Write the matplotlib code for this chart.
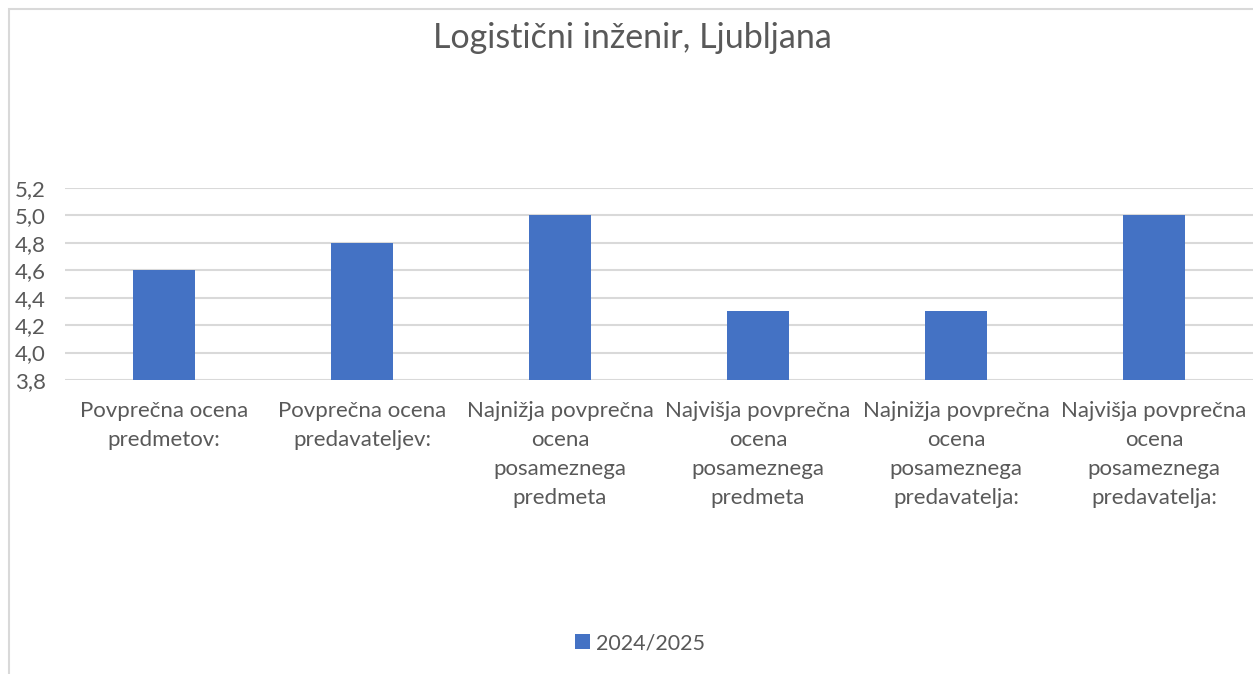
import matplotlib.pyplot as plt
from matplotlib.patches import Rectangle
from matplotlib.ticker import FuncFormatter

plt.rcParams['font.family'] = ['Lato', 'DejaVu Sans']

categories = ['Povprečna ocena\npredmetov:',
              'Povprečna ocena\npredavateljev:',
              'Najnižja povprečna\nocena\nposameznega\npredmeta',
              'Najvišja povprečna\nocena\nposameznega\npredmeta',
              'Najnižja povprečna\nocena\nposameznega\npredavatelja:',
              'Najvišja povprečna\nocena\nposameznega\npredavatelja:']
values = [4.6, 4.8, 5.0, 4.3, 4.3, 5.0]
series_name = '2024/2025'
yticks = [3.8, 4.0, 4.2, 4.4, 4.6, 4.8, 5.0, 5.2]

txt = '#595959'
fig = plt.figure(figsize=(12.53, 6.74), dpi=100)
ax = fig.add_axes([65/1253, 1-380/674, 1-65/1253, (380-188)/674])

x = range(len(categories))
ax.bar(x, values, width=0.315, color='#4472C4', label=series_name, zorder=3)
ax.set_xlim(-0.5, len(categories)-0.5)
ax.set_ylim(3.8, 5.2)
ax.set_yticks(yticks)
ax.yaxis.set_major_formatter(FuncFormatter(lambda v, p: f'{v:.1f}'.replace('.', ',')))
ax.set_xticks(list(x))
ax.set_xticklabels(categories, linespacing=1.57)
ax.grid(axis='y', color='#D9D9D9', lw=1.5, zorder=0)
for s in ax.spines.values():
    s.set_visible(False)
ax.tick_params(axis='both', length=0, colors=txt, labelsize=16)
ax.tick_params(axis='y', pad=14)
ax.tick_params(axis='x', pad=15)

fig.text(632/1253, 1-38/674, 'Logistični inženir, Ljubljana', ha='center', va='center',
         fontsize=24.5, color=txt)

leg = fig.legend(loc='center', bbox_to_anchor=(640/1253, 1-643/674), frameon=False,
                 handlelength=0.7, handleheight=0.7, handletextpad=0.3, fontsize=15.5)
for t in leg.get_texts():
    t.set_color(txt)

fig.patches.append(Rectangle((9/1253, -0.1), 1.2, 1.1-9/674, transform=fig.transFigure,
                             fill=False, edgecolor='#D9D9D9', lw=1.5))

fig.savefig('out.png', dpi=100)
